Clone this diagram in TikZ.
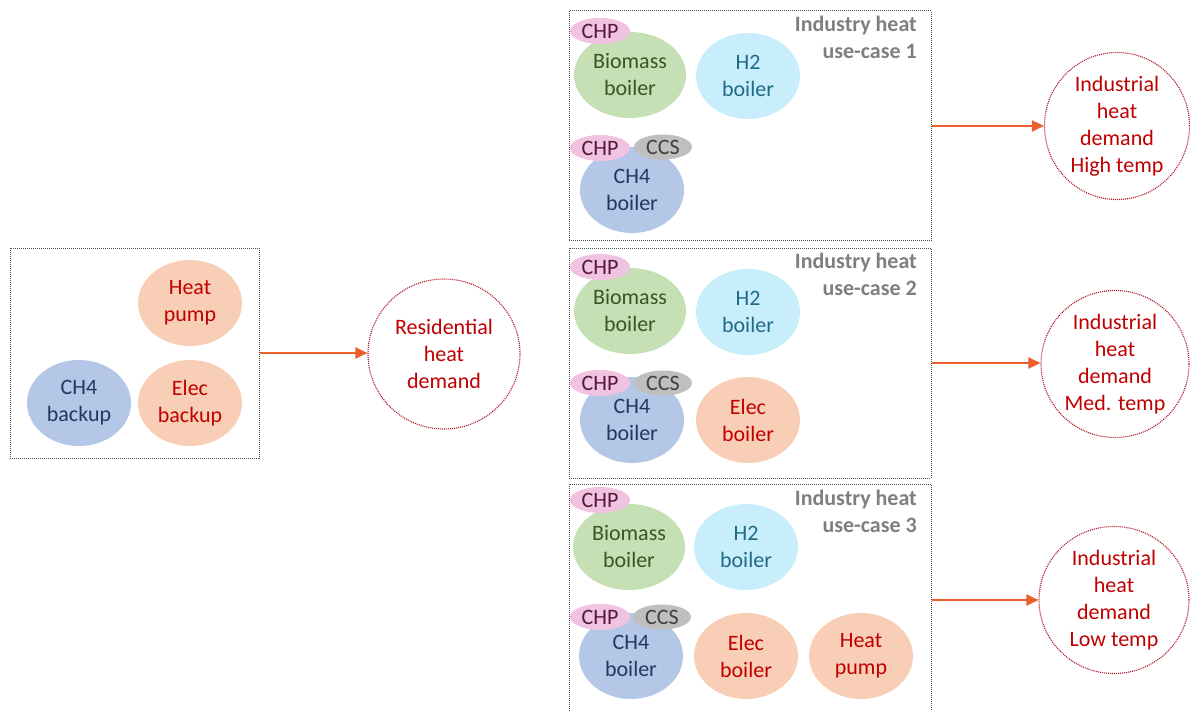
\documentclass[tikz,border=0pt]{standalone}
\usepackage{fontspec}
\setmainfont{Carlito}
\usetikzlibrary{shapes.geometric,arrows.meta}
\definecolor{bioF}{HTML}{C5E0B4}\definecolor{bioT}{HTML}{385723}
\definecolor{htwoF}{HTML}{C9EEFB}\definecolor{htwoT}{HTML}{1F6A85}
\definecolor{chF}{HTML}{B4C7E7}\definecolor{chT}{HTML}{203864}
\definecolor{elF}{HTML}{F8CFB6}\definecolor{elT}{HTML}{C00000}
\definecolor{chpF}{HTML}{F0C3E2}\definecolor{chpT}{HTML}{561838}
\definecolor{ccsF}{HTML}{BFBFBF}\definecolor{ccsT}{HTML}{404040}
\definecolor{arrC}{HTML}{EA5F2C}
\definecolor{boxC}{HTML}{505050}
\definecolor{titC}{HTML}{7F7F7F}
\definecolor{demC}{HTML}{B01020}
\begin{document}
\begin{tikzpicture}[x=1pt,y=-1pt,
  txt/.style={font=\fontsize{22}{27}\selectfont, align=center},
  blob/.style={ellipse, txt, inner sep=0pt, minimum width=104pt, minimum height=86pt},
  bio/.style={blob, fill=bioF, text=bioT, minimum width=112pt},
  htwo/.style={blob, fill=htwoF, text=htwoT},
  chfour/.style={blob, fill=chF, text=chT},
  elec/.style={blob, fill=elF, text=elT},
  chp/.style={ellipse, txt, inner sep=0pt, minimum width=60pt, minimum height=26pt, fill=chpF, text=chpT},
  ccs/.style={ellipse, txt, inner sep=0pt, minimum width=58pt, minimum height=25pt, fill=ccsF, text=ccsT},
  usebox/.style={draw=boxC, line width=1pt, dash pattern=on 1pt off 1pt, rectangle, inner sep=0pt},
  title/.style={font=\fontsize{22}{27}\selectfont\bfseries, text=titC, align=right, anchor=north east, inner sep=0pt},
  demand/.style={ellipse, txt, inner sep=0pt, draw=demC, line width=1.1pt, dash pattern=on 1pt off 1pt, text=elT, fill=white},
  flow/.style={draw=arrC, line width=2.5pt, -{Triangle[length=12pt,width=11pt]}}
]
\useasboundingbox (0,0) rectangle (1190,711);

% ---- residential ----
\node[usebox, minimum width=249pt, minimum height=210pt] (rbox) at (134.5,353) {};
\node[elec] (rhp) at (190,303) {Heat\\pump};
\node[chfour] (rch) at (79,403) {CH4\\backup};
\node[elec] (rel) at (190,403) {Elec\\backup};
\node[demand, minimum width=152pt, minimum height=150pt] (rd) at (444,354) {Residential\\heat\\demand};
\draw[flow] (rbox.east) -- (rbox.east -| rd.west);

% ---- industry box 1 ----
\node[usebox, minimum width=362pt, minimum height=230pt] (b1) at (750,126) {};
\node[title] (t1) at (917,16) {Industry heat\\use-case 1};
\node[bio] (b1bio) at (630,75) {Biomass\\boiler};
\node[htwo] (b1h2) at (748,76) {H2\\boiler};
\node[chfour] (b1ch) at (632,190) {CH4\\boiler};
\node[chp] (b1chpa) at (600,31) {CHP};
\node[ccs] (b1ccs) at (663,147) {CCS};
\node[chp] (b1chpb) at (600,148) {CHP};
\node[demand, minimum width=145pt, minimum height=147pt] (d1) at (1117,126) {Industrial\\heat\\demand\\High temp};
\draw[flow] (b1.east) -- (b1.east -| d1.west);

% ---- industry box 2 ----
\node[usebox, minimum width=362pt, minimum height=230pt] (b2) at (750,363) {};
\node[title] (t2) at (917,253) {Industry heat\\use-case 2};
\node[bio] (b2bio) at (630,311) {Biomass\\boiler};
\node[htwo] (b2h2) at (748,312) {H2\\boiler};
\node[chfour] (b2ch) at (632,420) {CH4\\boiler};
\node[elec] (b2el) at (748,420) {Elec\\boiler};
\node[chp] (b2chpa) at (600,267) {CHP};
\node[ccs] (b2ccs) at (663,383) {CCS};
\node[chp] (b2chpb) at (600,383) {CHP};
\node[demand, minimum width=148pt, minimum height=147pt] (d2) at (1115,364) {Industrial\\heat\\demand\\Med. temp};
\draw[flow] (b2.east) -- (b2.east -| d2.west);

% ---- industry box 3 ----
\node[usebox, minimum width=362pt, minimum height=232pt] (b3) at (750,600) {};
\node[title] (t3) at (917,490) {Industry heat\\use-case 3};
\node[bio] (b3bio) at (629,547) {Biomass\\boiler};
\node[htwo] (b3h2) at (746,547) {H2\\boiler};
\node[chfour] (b3ch) at (631,656) {CH4\\boiler};
\node[elec] (b3el) at (746,656) {Elec\\boiler};
\node[elec] (b3hp) at (861,656) {Heat\\pump};
\node[chp] (b3chpa) at (600,500) {CHP};
\node[ccs] (b3ccs) at (662,617) {CCS};
\node[chp] (b3chpb) at (600,617) {CHP};
\node[demand, minimum width=150pt, minimum height=147pt] (d3) at (1114,600) {Industrial\\heat\\demand\\Low temp};
\draw[flow] (b3.east) -- (b3.east -| d3.west);
\end{tikzpicture}
\end{document}
